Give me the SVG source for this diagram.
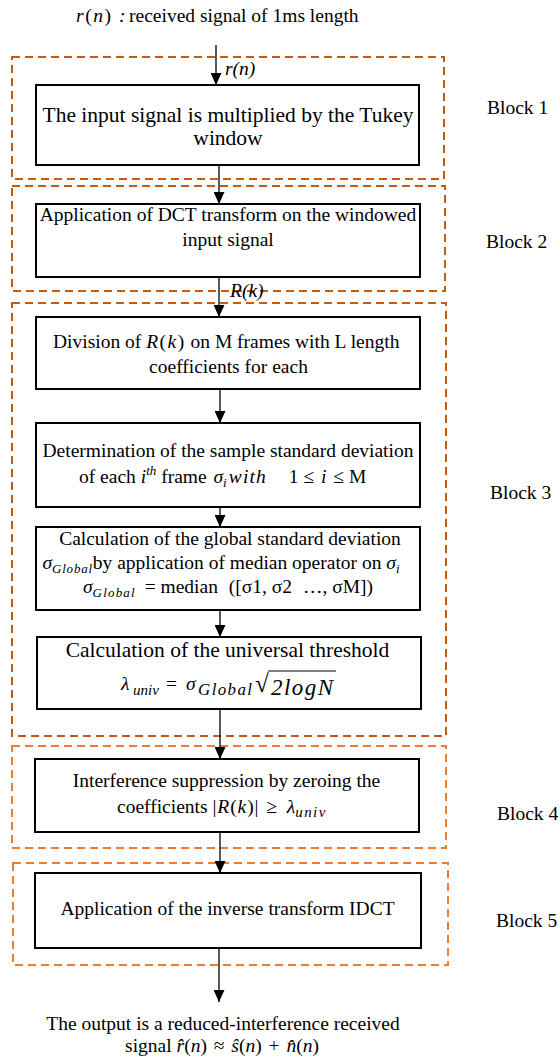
<svg xmlns="http://www.w3.org/2000/svg" width="560" height="1061" viewBox="0 0 560 1061">
<defs>
<style>
.t{font-family:"Liberation Serif","Times New Roman","DejaVu Serif",serif;font-size:19.5px;fill:#000;text-anchor:middle}
.big{font-size:21.5px}
.l{text-anchor:start}
.i{font-style:italic}
.n{font-style:normal}
.box{fill:#fff;stroke:#000;stroke-width:2}
.dA{fill:none;stroke:#C55A11;stroke-width:2;stroke-dasharray:8 5}
.dB{fill:none;stroke:#ED7D31;stroke-width:2;stroke-dasharray:8 5}
.c line{stroke:#000;stroke-width:1.3}
</style>
<marker id="ah" viewBox="0 0 12 11" markerWidth="12" markerHeight="11" refX="12" refY="5.5" markerUnits="userSpaceOnUse" orient="auto">
<path d="M0,0 L12,5.5 L0,11 z" fill="#000"/>
</marker>
</defs>
<rect width="560" height="1061" fill="#fff"/>
<g font-family="Liberation Serif, Times New Roman, serif">

<g id="block1"><rect class="dA" x="12" y="57" width="432" height="122"/><text class="t l" x="487" y="114">Block 1</text></g>
<g id="block2"><rect class="dA" x="12" y="186" width="433" height="105"/><text class="t l" x="486" y="248">Block 2</text></g>
<g id="block3"><rect class="dA" x="12" y="303" width="434" height="433"/><text class="t l" x="490" y="499">Block 3</text></g>
<g id="block4"><rect class="dB" x="12" y="746" width="434" height="102"/><text class="t l" x="497" y="820">Block 4</text></g>
<g id="block5"><rect class="dB" x="13" y="863" width="435" height="102"/><text class="t l" x="496" y="927">Block 5</text></g>

<g id="input"><text class="t l" y="22"><tspan x="76" textLength="35" lengthAdjust="spacing"><tspan class="i">r</tspan>(<tspan class="i">n</tspan>)</tspan><tspan class="i" x="119">:</tspan><tspan x="129">received signal of 1ms length</tspan></text></g>

<g id="n1"><rect class="box" x="36" y="85" width="383" height="80"/>
<text class="t big" x="228" y="122">The input signal is multiplied by the Tukey</text>
<text class="t big" x="228" y="145">window</text></g>

<g id="n2"><rect class="box" x="36" y="204" width="384" height="73"/>
<text class="t" x="228" y="221">Application of DCT transform on the windowed</text>
<text class="t" x="228" y="246">input signal</text></g>

<g id="n3"><rect class="box" x="36" y="317" width="384" height="72"/>
<text class="t l" x="53" y="348">Division of <tspan textLength="38" lengthAdjust="spacing"><tspan class="i">R</tspan>(<tspan class="i">k</tspan>)</tspan> on M frames with L length</text>
<text class="t" x="228.5" y="373">coefficients for each</text></g>

<g id="n4"><rect class="box" x="36" y="423" width="384" height="84"/>
<text class="t" x="228" y="457">Determination of the sample standard deviation</text>
<text class="t l" x="79" y="483">of each <tspan class="i">i</tspan><tspan class="i" font-size="13" dy="-8">th</tspan><tspan dy="8"> frame </tspan><tspan class="i" dx="2">σ</tspan><tspan class="i" font-size="13" dy="4">i</tspan><tspan class="i" dy="-4" dx="2" textLength="37" lengthAdjust="spacing">with</tspan><tspan dx="22">1 ≤ </tspan><tspan class="i" dx="2">i</tspan><tspan dx="2"> ≤ M</tspan></text></g>

<g id="n5"><rect class="box" x="36" y="527" width="384" height="83"/>
<text class="t" x="230" y="545">Calculation of the global standard deviation</text>
<text class="t" x="221" y="569"><tspan class="i">σ</tspan><tspan class="i" dy="4" font-size="13" textLength="40" lengthAdjust="spacing">Global</tspan><tspan dy="-4">by application of median operator on </tspan><tspan class="i">σ</tspan><tspan class="i" dy="4" font-size="13">i</tspan></text>
<text class="t" x="228" y="593"><tspan class="i">σ</tspan><tspan class="i" dy="4" font-size="13" textLength="42" lengthAdjust="spacing">Global</tspan><tspan dy="-4" dx="4"> = median </tspan><tspan dx="6">([σ1, σ2 </tspan><tspan dx="6">…, σM])</tspan></text></g>

<g id="n6"><rect class="box" x="37" y="637" width="384" height="72"/>
<text class="t big" x="227.5" y="657">Calculation of the universal threshold</text>
<text class="t l i" y="690" font-size="22"><tspan x="121">λ</tspan><tspan x="133" dy="5" font-size="15">univ</tspan><tspan class="n" x="166" dy="-5">=</tspan><tspan x="186">σ</tspan><tspan x="198" dy="5" font-size="17" textLength="54" lengthAdjust="spacing">Global</tspan><tspan class="n" x="255" dy="-3" font-size="25">√</tspan><tspan x="271" dy="3" font-size="23" textLength="62" lengthAdjust="spacing">2logN</tspan></text>
<line x1="268" y1="671" x2="336" y2="671" stroke="#000" stroke-width="1.2"/></g>

<g id="n7"><rect class="box" x="35" y="759" width="384" height="73"/>
<text class="t" x="226.5" y="787">Interference suppression by zeroing the</text>
<text class="t l" x="117" y="813">coefficients <tspan textLength="46" lengthAdjust="spacing">|<tspan class="i">R</tspan>(<tspan class="i">k</tspan>)|</tspan><tspan dx="2"> ≥ </tspan><tspan class="i" dx="5">λ</tspan><tspan class="i" dy="4" font-size="15" textLength="30" lengthAdjust="spacing">univ</tspan></text></g>

<g id="n8"><rect class="box" x="35" y="873" width="386" height="75"/>
<text class="t" x="227.5" y="915">Application of the inverse transform IDCT</text></g>

<g id="output">
<text class="t" x="223" y="1030">The output is a reduced-interference received</text>
<text class="t" x="222" y="1052">signal <tspan class="i">r̂</tspan>(<tspan class="i">n</tspan>)<tspan dx="2"> ≈ </tspan><tspan class="i" dx="2">ŝ</tspan>(<tspan class="i">n</tspan>)<tspan dx="2"> + </tspan><tspan class="i" dx="2">n̂</tspan>(<tspan class="i">n</tspan>)</text></g>

<g id="connectors" class="c">
<line x1="216" y1="45" x2="216" y2="85" marker-end="url(#ah)"/>
<line x1="219" y1="165" x2="219" y2="204" marker-end="url(#ah)"/>
<line x1="219" y1="277" x2="219" y2="317" marker-end="url(#ah)"/>
<line x1="220" y1="389" x2="220" y2="423" marker-end="url(#ah)"/>
<line x1="220" y1="507" x2="220" y2="527" marker-end="url(#ah)"/>
<line x1="220" y1="610" x2="220" y2="637" marker-end="url(#ah)"/>
<line x1="220" y1="709" x2="220" y2="759" marker-end="url(#ah)"/>
<line x1="220" y1="832" x2="220" y2="873" marker-end="url(#ah)"/>
<line x1="219" y1="948" x2="219" y2="1002" marker-end="url(#ah)"/>
<text class="t i l" x="225" y="75">r(n)</text>
<text class="t i l" x="230" y="297">R(k)</text>
</g>
</g>
</svg>
